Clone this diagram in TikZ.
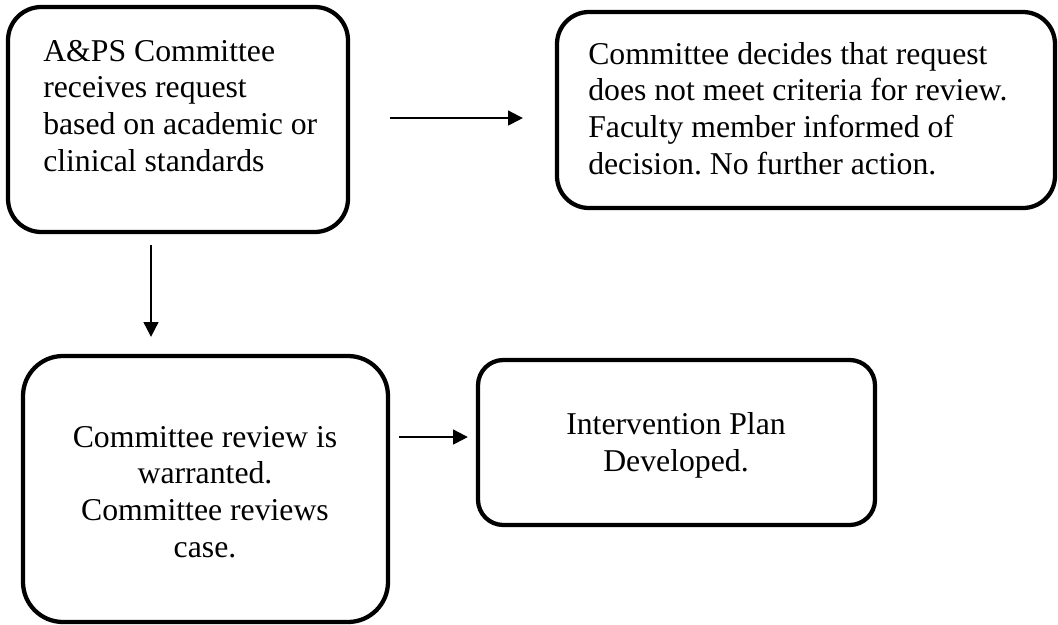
\documentclass[tikz,border=0pt]{standalone}
\usepackage{fontspec}
\setmainfont{Liberation Serif}
\usetikzlibrary{arrows.meta}
\frenchspacing
\begin{document}
\begin{tikzpicture}[x=0.75pt,y=-0.75pt,
  box/.style={draw, line width=3.2pt, rectangle, inner sep=0pt},
  txt/.style={inner sep=0pt, font=\fontsize{23.8pt}{27.5pt}\selectfont},
  conn/.style={line width=1.5pt, -{Triangle[length=11pt,width=11pt]}}]
\useasboundingbox (0,0) rectangle (1058,625);
% boxes
\node[box, rounded corners=25pt, minimum width=255pt, minimum height=168.75pt] (b1) at (178,119.5) {};
\node[box, rounded corners=24pt, minimum width=373.5pt, minimum height=147pt] (b2) at (806,110) {};
\node[box, rounded corners=30pt, minimum width=273.75pt, minimum height=199.5pt] (b3) at (205.5,489) {};
\node[box, rounded corners=19pt, minimum width=297.75pt, minimum height=123.75pt] (b4) at (676.5,442.5) {};
% texts (base anchor = baseline of last line)
\node[txt, anchor=base west, align=left] (t1) at (43,171) {A\&PS Committee\\receives request\\based on academic or\\clinical standards};
\node[txt, anchor=base west, align=left] (t2) at (588,174) {Committee decides that request\\does not meet criteria for review.\\Faculty member informed of\\decision.\ No further action.};
\node[txt, anchor=base, align=center] (t3) at (205,557) {Committee review is\\warranted.\\Committee reviews\\case.};
\node[txt, anchor=base, align=center] (t4) at (676,471) {Intervention Plan\\Developed.};
% connectors
\draw[conn, shorten <=30pt, shorten >=24pt] ([yshift=1.1pt]b1.east) -- ([yshift=1.1pt]b1.east -| b2.west);
\draw[conn, shorten <=8.25pt, shorten >=12.75pt] ([xshift=-20.25pt]b1.south) -- ([xshift=-20.25pt]b1.south |- b3.north);
\draw[conn, shorten <=6.75pt, shorten >=6pt] ([yshift=4.1pt]b4.west -| b3.east) -- ([yshift=4.1pt]b4.west);
\end{tikzpicture}
\end{document}
